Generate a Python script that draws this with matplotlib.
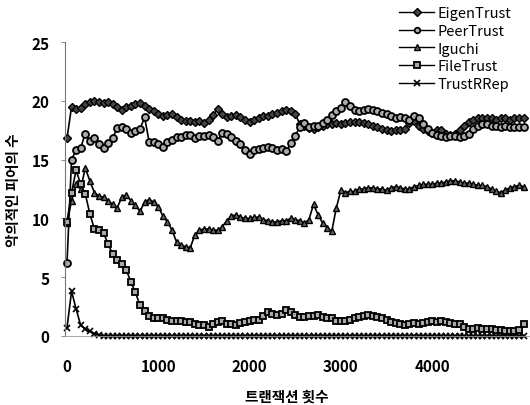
import numpy as np
import matplotlib
matplotlib.use("Agg")
import matplotlib.pyplot as plt

plt.rcParams['font.family'] = ['Liberation Sans Narrow', 'Noto Sans CJK KR', 'DejaVu Sans']

# transactions, every 50
tx = np.arange(0, 5001, 50)

eigen = [16.8, 19.5, 19.3, 19.4, 19.7, 19.9, 20.0, 19.9, 19.8, 19.9,
         19.7, 19.5, 19.2, 19.5, 19.6, 19.7, 19.8, 19.6, 19.3, 19.1,
         18.9, 18.7, 18.8, 18.9, 18.6, 18.4, 18.3, 18.3, 18.2, 18.3,
         18.1, 18.4, 18.8, 19.3, 18.9, 18.6, 18.7, 18.8, 18.6, 18.4,
         18.2, 18.4, 18.5, 18.7, 18.7, 18.9, 19.0, 19.1, 19.2, 19.1,
         18.9, 18.0, 17.9, 17.7, 17.6, 17.8, 17.9, 18.0, 18.0, 18.1,
         18.0, 18.1, 18.2, 18.2, 18.2, 18.1, 18.0, 17.9, 17.8, 17.6,
         17.5, 17.4, 17.5, 17.5, 17.6, 18.1, 18.3, 17.9, 17.6, 17.4,
         17.3, 17.5, 17.5, 17.2, 17.1, 17.2, 17.5, 17.9, 18.2, 18.4,
         18.5, 18.5, 18.5, 18.5, 18.4, 18.5, 18.5, 18.4, 18.5, 18.5, 18.5]

peer = [6.2, 15.0, 15.8, 16.0, 17.2, 16.6, 16.8, 16.3, 16.0, 16.4,
        16.8, 17.7, 17.8, 17.6, 17.3, 17.4, 17.6, 18.6, 16.5, 16.5,
        16.3, 16.1, 16.5, 16.7, 16.9, 16.9, 17.1, 17.1, 16.8, 17.0,
        17.0, 17.1, 16.9, 16.6, 17.3, 17.2, 16.9, 16.6, 16.3, 15.8,
        15.5, 15.8, 15.9, 16.0, 16.1, 16.0, 15.8, 15.9, 15.7, 16.4,
        17.0, 17.8, 18.1, 17.8, 17.9, 17.9, 18.1, 18.4, 18.8, 19.1,
        19.4, 19.9, 19.6, 19.2, 19.1, 19.2, 19.3, 19.2, 19.1, 19.0,
        18.9, 18.7, 18.5, 18.6, 18.5, 18.4, 18.7, 18.5, 18.0, 17.6,
        17.3, 17.1, 17.0, 16.9, 17.0, 17.0, 16.9, 17.0, 17.2, 17.6,
        17.9, 18.0, 18.0, 17.9, 17.9, 17.8, 17.9, 17.8, 17.8, 17.8, 17.8]

iguchi = [9.6, 11.5, 12.9, 12.5, 14.3, 13.2, 12.2, 11.9, 11.8, 11.5,
          11.2, 10.9, 11.8, 12.0, 11.5, 11.1, 10.6, 11.4, 11.6, 11.4,
          11.0, 10.2, 9.7, 9.0, 8.0, 7.7, 7.6, 7.5, 8.6, 9.0,
          9.1, 9.1, 9.0, 9.0, 9.3, 9.8, 10.2, 10.3, 10.1, 10.0,
          10.0, 10.1, 10.1, 9.9, 9.8, 9.7, 9.7, 9.8, 9.8, 10.0,
          9.9, 9.8, 9.6, 9.9, 11.2, 10.3, 9.6, 9.2, 8.9, 10.9,
          12.4, 12.2, 12.3, 12.3, 12.5, 12.5, 12.6, 12.6, 12.5, 12.5,
          12.4, 12.6, 12.7, 12.6, 12.5, 12.5, 12.7, 12.8, 12.9, 12.9,
          12.9, 13.0, 13.0, 13.1, 13.2, 13.2, 13.1, 13.0, 13.0, 12.9,
          12.8, 12.8, 12.7, 12.5, 12.3, 12.2, 12.4, 12.6, 12.7, 12.8, 12.7]

filetrust = [9.7, 12.2, 14.1, 12.9, 12.1, 10.4, 9.1, 9.0, 8.8, 7.8,
             7.0, 6.5, 6.1, 5.6, 4.6, 3.7, 2.6, 2.1, 1.7, 1.5,
             1.5, 1.5, 1.4, 1.3, 1.3, 1.3, 1.2, 1.2, 1.0, 0.9,
             0.9, 0.8, 1.0, 1.2, 1.3, 1.0, 1.0, 0.9, 1.1, 1.2,
             1.3, 1.4, 1.4, 1.7, 2.0, 1.9, 1.8, 1.9, 2.2, 2.0,
             1.8, 1.6, 1.6, 1.7, 1.7, 1.8, 1.6, 1.5, 1.5, 1.3,
             1.3, 1.3, 1.4, 1.5, 1.6, 1.7, 1.8, 1.7, 1.6, 1.5,
             1.4, 1.2, 1.1, 1.0, 0.9, 1.0, 1.1, 1.0, 1.1, 1.2,
             1.3, 1.2, 1.3, 1.2, 1.1, 1.0, 1.0, 0.8, 0.6, 0.6,
             0.7, 0.6, 0.6, 0.6, 0.5, 0.5, 0.4, 0.4, 0.4, 0.5, 1.0]

trustrrep = [0.7, 3.8, 2.3, 0.9, 0.6, 0.4, 0.2, 0.1, 0.0, 0.0,
             0.0, 0.0, 0.0, 0.0, 0.0, 0.0, 0.0, 0.0, 0.0, 0.0,
             0.0, 0.0, 0.0, 0.0, 0.0, 0.0, 0.0, 0.0, 0.0, 0.0,
             0.0, 0.0, 0.0, 0.0, 0.0, 0.0, 0.0, 0.0, 0.0, 0.0,
             0.0, 0.0, 0.0, 0.0, 0.0, 0.0, 0.0, 0.0, 0.0, 0.0,
             0.0, 0.0, 0.0, 0.0, 0.0, 0.0, 0.0, 0.0, 0.0, 0.0,
             0.0, 0.0, 0.0, 0.0, 0.0, 0.0, 0.0, 0.0, 0.0, 0.0,
             0.0, 0.0, 0.0, 0.0, 0.0, 0.0, 0.0, 0.0, 0.0, 0.0,
             0.0, 0.0, 0.0, 0.0, 0.0, 0.0, 0.0, 0.0, 0.0, 0.0,
             0.0, 0.0, 0.0, 0.0, 0.0, 0.0, 0.0, 0.0, 0.0, 0.0, 0.0]

names = ['EigenTrust', 'PeerTrust', 'Iguchi', 'FileTrust', 'TrustRRep']

fig = plt.figure(figsize=(5.3, 4.06), dpi=100)
ax = fig.add_axes([0.1226, 0.17, 0.8774, 0.724])

ax.plot(tx, eigen, '-D', color='k', lw=1.2, ms=3.6, mfc='#444444', mec='k', mew=1, clip_on=False, label=names[0])
ax.plot(tx, peer, '-o', color='k', lw=1.2, ms=5, mfc='#aaaaaa', mec='k', mew=1.3, clip_on=False, label=names[1])
ax.plot(tx, iguchi, '-^', color='k', lw=1.2, ms=4.5, mfc='#666666', mec='k', mew=1, clip_on=False, label=names[2])
ax.plot(tx, filetrust, '-s', color='k', lw=1.2, ms=5, mfc='#aaaaaa', mec='k', mew=1.3, clip_on=False, label=names[3])
ax.plot(tx, trustrrep, '-x', color='k', lw=1.2, ms=5, mew=1.2, clip_on=False, label=names[4])

ax.set_xlim(-22, 5071)
ax.set_ylim(0, 25)
ax.set_yticks([0, 5, 10, 15, 20, 25])
ax.set_xticks([0, 1000, 2000, 3000, 4000])
for s in ['top', 'right']:
    ax.spines[s].set_visible(False)
ax.spines['left'].set_color('#777777')
ax.spines['left'].set_linewidth(0.8)
ax.spines['bottom'].set_color('#999999')
ax.spines['bottom'].set_linewidth(0.6)
ax.tick_params(axis='y', direction='out', length=3, width=0.6, color='#777777',
               pad=8, labelsize=11)
ax.tick_params(axis='x', length=0, pad=16, labelsize=11)
for lab in ax.get_xticklabels() + ax.get_yticklabels():
    lab.set_fontweight('bold')

fig.text(287 / 530, 1 - 397 / 406, '트랜잭션 횟수', ha='center', va='center',
         fontsize=10.5, fontweight='bold', family=['Noto Sans CJK KR', 'DejaVu Sans'])
fig.text(13 / 530, 1 - 190 / 406, '악의적인 피어의 수', ha='center', va='center',
         rotation=90, fontsize=10.5, fontweight='bold', family=['Noto Sans CJK KR', 'DejaVu Sans'])

leg = fig.legend(loc='upper left', bbox_to_anchor=(392 / 530, 1.0), frameon=False,
                 fontsize=10.5, handlelength=2.4, handletextpad=0.2, labelspacing=0.25,
                 borderaxespad=0.3, borderpad=0.2)
for h in leg.legend_handles:
    h.set_linewidth(1)
    h.set_markersize(4)

fig.savefig('out.png', dpi=100)
